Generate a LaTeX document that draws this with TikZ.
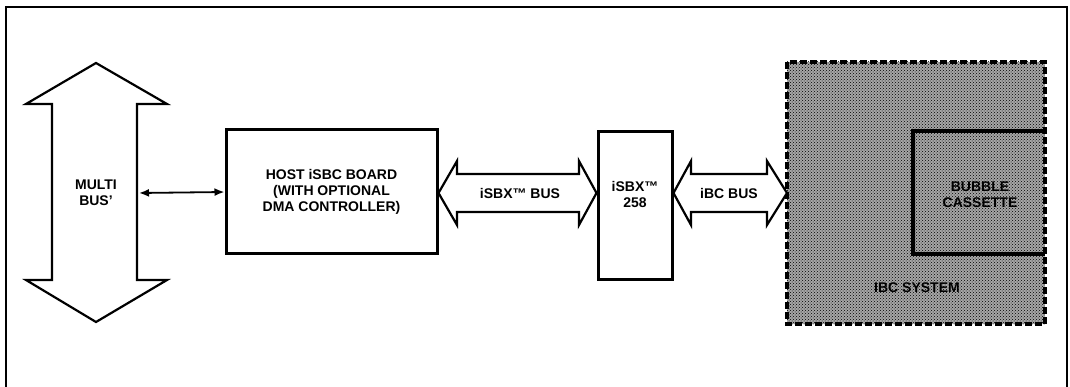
\documentclass[tikz,border=0pt]{standalone}
\usepackage{fontspec}
\setmainfont{Liberation Sans}
\usetikzlibrary{patterns,arrows.meta}
\begin{document}
\begin{tikzpicture}[x=1pt,y=-1pt,
  lbl/.style={font=\fontsize{14}{16}\selectfont\bfseries, align=center, inner sep=0pt},
  box/.style={draw, line width=3pt, inner sep=0pt},
  fat/.style={draw, line width=2.2pt, line join=miter, fill=white}]
\useasboundingbox (0,0) rectangle (1070,387);
% outer frame
\draw[line width=2.6pt] (6,387) -- (6,7) -- (1067,7) -- (1067,387);
% iBC system
\fill[black!35] (787,62) rectangle (1045,324);
\fill[pattern=crosshatch dots, pattern color=black] (787,62) rectangle (1045,324);
\draw[line width=3.2pt, dash pattern=on 7pt off 3pt] (787,62) rectangle (1045,324);
\draw[line width=3.4pt] (1045,131) -- (913,131) -- (913,254) -- (1045,254);
\node[lbl] (bubble) at (980,195) {BUBBLE\\CASSETTE};
\node[lbl] (ibcsys) at (917,288) {IBC SYSTEM};
\coordinate (sys) at (787,193);
% multibus fat arrow
\draw[fat] (96,63) -- (167,104) -- (137,104) -- (137,280) -- (167,280) -- (96,322)
  -- (26,280) -- (52,280) -- (52,104) -- (26,104) -- cycle;
\node[lbl] (multi) at (96,193) {MULTI\\BUS'};
\coordinate (mbR) at (139,193);
% host board
\node[box, minimum width=211pt, minimum height=124pt] (host) at (331.5,192) {};
\node[lbl] at (host.center) {HOST iSBC BOARD\\(WITH OPTIONAL\\DMA CONTROLLER)};
\draw[line width=1.8pt, {Latex[length=10pt,width=8pt]}-{Latex[length=10pt,width=8pt]}] (mbR) -- (host.west);
% iSBX 258
\node[box, minimum width=74pt, minimum height=147pt] (isbx) at (635,205.5) {};
\node[lbl] at (635,194) {iSBX™\\258};
% iSBX bus
\draw[fat] (host.east |- 0,193) -- (457,161) -- (457,174) -- (579,174) -- (579,161) -- (isbx.west |- 0,193)
  -- (579,225) -- (579,212) -- (457,212) -- (457,225) -- cycle;
\node[lbl] (sbxbus) at (520,193) {iSBX™ BUS};
% iBC bus
\draw[fat] (isbx.east |- 0,193) -- (691,161) -- (691,174) -- (767,174) -- (767,161) -- (sys)
  -- (767,225) -- (767,212) -- (691,212) -- (691,225) -- cycle;
\node[lbl] (ibcbus) at (729,193) {iBC BUS};
\end{tikzpicture}
\end{document}
